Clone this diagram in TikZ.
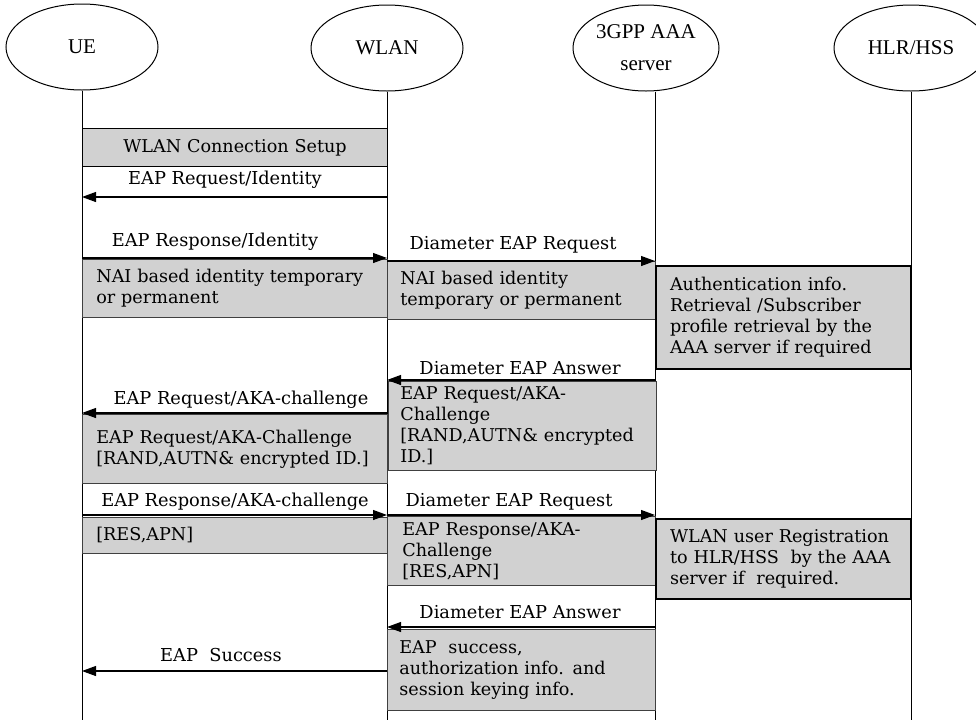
\documentclass[tikz,border=0pt]{standalone}
\usepackage{fontspec}
\setmainfont{DejaVu Serif}
\newfontfamily\headfont{Liberation Serif}
\usetikzlibrary{arrows.meta,shapes.geometric}
\begin{document}
\begin{tikzpicture}[x=1pt,y=-1pt,
  actor/.style={ellipse, draw, line width=1pt, minimum width=152pt, minimum height=86pt,
    font=\headfont\fontsize{21}{32}\selectfont, align=center, inner sep=0pt},
  life/.style={line width=0.9pt},
  msg/.style={line width=1.1pt, -{Triangle[length=14pt,width=10pt]}},
  lbl/.style={font=\fontsize{17.8}{21}\selectfont, inner sep=0pt},
  shbox/.style={draw=black!75, line width=0.7pt, fill=black!18, anchor=north west,
    inner xsep=14pt, inner ysep=1pt, align=left, font=\fontsize{17.6}{21}\selectfont},
  thickbox/.style={shbox, draw=black, line width=2pt},
]
\useasboundingbox (0,0) rectangle (976,724);

% actors
\node[actor] (ue) at (82,47) {UE};
\node[actor] (wlan) at (387,48) {WLAN};
\node[actor, minimum width=146pt] (aaa) at (646,48) {3GPP AAA\\server};
\node[actor, minimum width=154pt] (hlr) at (911,48) {HLR/HSS};

\coordinate (ueL) at (82,0);
\coordinate (wlanL) at (387,0);
\coordinate (aaaL) at (655,0);
\coordinate (hlrL) at (911,0);
\coordinate (bot) at (0,720);

\draw[life] (ue.south) -- (ueL |- bot);
\draw[life] (wlan.south) -- (wlanL |- bot);
\draw[life] (aaaL |- aaa.south) -- (aaaL |- bot);
\draw[life] (hlr.south) -- (hlrL |- bot);

% boxes
\node[shbox, draw=black, line width=1pt, align=center, text width=277pt, minimum height=38pt] (setup) at (82,128) {WLAN Connection Setup};
\node[shbox, text width=277pt, minimum height=58pt] (nai1) at (82,259) {NAI based identity temporary\\or permanent};
\node[shbox, inner xsep=13pt, text width=242pt, minimum height=58pt] (nai2) at (387,261) {NAI based identity\\temporary or permanent};
\node[thickbox, text width=227pt, minimum height=103pt] (auth) at (655,265) {Authentication info.\\Retrieval /Subscriber\\profile retrieval by the\\AAA server if required};
\node[shbox, inner xsep=12pt, text width=244pt, minimum height=89pt] (chal2) at (388,381) {EAP Request/AKA-\\Challenge\\{[}RAND,AUTN\& encrypted\\ID.{]}};
\node[shbox, text width=277pt, minimum height=69pt] (chal1) at (82,414) {EAP Request/AKA-Challenge\\{[}RAND,AUTN\& encrypted ID.{]}};
\node[shbox, text width=277pt, minimum height=36pt] (res1) at (82,517) {{[}RES,APN{]}};
\node[shbox, inner xsep=15pt, text width=238pt, minimum height=69pt] (res2) at (387,516) {EAP Response/AKA-\\Challenge\\{[}RES,APN{]}};
\node[thickbox, text width=227pt, minimum height=80pt] (reg) at (655,518) {WLAN user Registration\\to HLR/HSS\ \ by the AAA\\server if\ \ required.};
\node[shbox, inner xsep=12pt, text width=244pt, minimum height=81pt] (succ) at (387,629) {EAP\ \ success,\\authorization info. and\\session keying info.};

% messages
\draw[msg] (wlanL |- 0,197) -- (ueL |- 0,197);
\draw[msg] (ueL |- 0,258) -- (wlanL |- 0,258);
\draw[msg] (wlanL |- 0,261) -- (aaaL |- 0,261);
\draw[msg] (aaaL |- 0,380) -- (wlanL |- 0,380);
\draw[msg] (wlanL |- 0,413) -- (ueL |- 0,413);
\draw[msg] (ueL |- 0,515) -- (wlanL |- 0,515);
\draw[msg] (wlanL |- 0,515) -- (aaaL |- 0,515);
\draw[msg] (aaaL |- 0,627) -- (wlanL |- 0,627);
\draw[msg] (wlanL |- 0,671) -- (ueL |- 0,671);

% labels
\node[lbl] (l1) at (225,180) {EAP Request/Identity};
\node[lbl] (l2) at (215,242) {EAP Response/Identity};
\node[lbl] (l3) at (513,245) {Diameter EAP Request};
\node[lbl] (l4) at (520,368) {Diameter EAP Answer};
\node[lbl] (l5) at (241,400) {EAP Request/AKA-challenge};
\node[lbl] (l6) at (235,502) {EAP Response/AKA-challenge};
\node[lbl] (l7) at (509,502) {Diameter EAP Request};
\node[lbl] (l8) at (520,612) {Diameter EAP Answer};
\node[lbl] (l9) at (221,655) {EAP\ \ Success};
\end{tikzpicture}
\end{document}
